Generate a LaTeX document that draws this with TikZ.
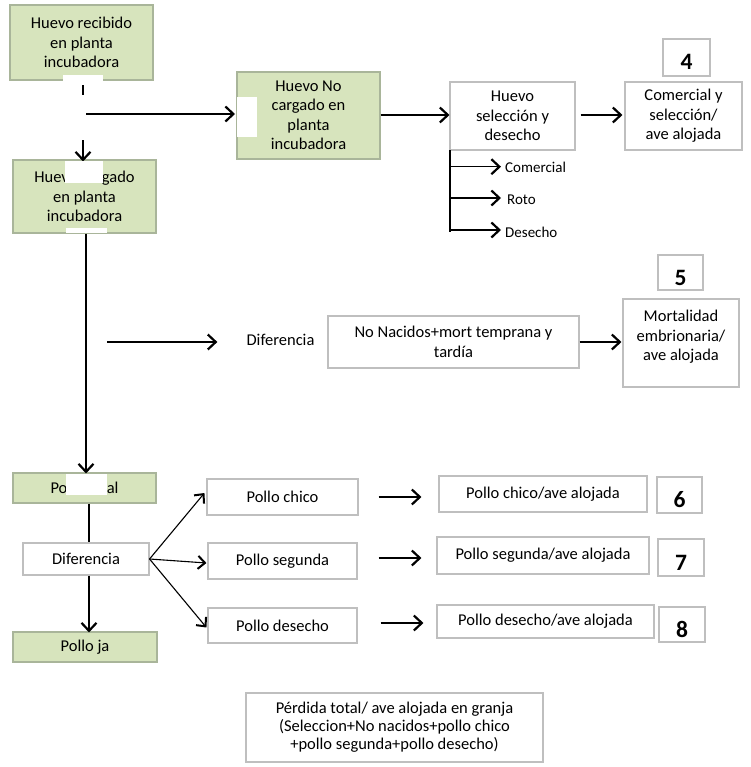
\documentclass[tikz,border=0pt]{standalone}
\usepackage{fontspec}
\setmainfont{Carlito}
\usetikzlibrary{arrows.meta}
\definecolor{boxgreen}{HTML}{D7E4BD}
\definecolor{boxline}{HTML}{BFBFBF}
\definecolor{gboxline}{HTML}{A9B59A}
\newcommand{\mfont}{\fontsize{16.5}{19.5}\selectfont}
\newcommand{\sfontx}{\fontsize{15}{18}\selectfont}
\newcommand{\nfont}{\fontsize{23.5}{26}\selectfont\bfseries}
\tikzset{
  gbox/.style={draw=gboxline, fill=boxgreen, line width=1.1pt, align=center, inner sep=0pt, font=\mfont, text=black},
  wbox/.style={draw=boxline, fill=white, line width=1.1pt, align=center, inner sep=0pt, font=\mfont, text=black},
  numbox/.style={wbox, font=\nfont, text height=25pt, text depth=0pt},
  plain/.style={inner sep=0pt, font=\mfont, align=center, text=black},
  small/.style={inner sep=0pt, font=\sfontx, anchor=west, text=black},
  patch/.style={fill=white, draw=none},
  arr/.style={line width=1.3pt, -{Straight Barb[length=8pt,width=15pt,line width=2.2pt]}},
  farr/.style={line width=1.1pt, -{Straight Barb[length=7pt,width=13pt,line width=2pt]}},
  ln/.style={line width=1.3pt},
}
\begin{document}
\begin{tikzpicture}[x=1pt,y=-1pt]
\useasboundingbox[fill=white] (0,0) rectangle (750,767);

% top left column
\node[gbox, minimum width=143pt, minimum height=75pt] (b1) at (81.5,42.5) {Huevo recibido\\en planta\\incubadora};
\node[gbox, minimum width=143pt, minimum height=87pt] (b3) at (308.5,115.5) {Huevo No\\cargado en\\planta\\incubadora};
\node[gbox, minimum width=143pt, minimum height=73pt] (b2) at (84.5,196.5) {Huev\phantom{o car}gado\\en planta\\incubadora};

\coordinate (split) at (83,114);
\coordinate (b3in) at (235,114);
\draw[ln] (b1.south -| split) -- (split);
\draw[arr] (split) -- ([yshift=-2pt]b2.north -| split);
\draw[arr] (split) -- (b3in);

% selection
\node[wbox, minimum width=125pt, minimum height=68pt] (sel) at (512.5,116) {Huevo\\selección y\\desecho};
\node[wbox, minimum width=117pt, minimum height=68pt] (com) at (683.5,116) {Comercial y\\selección/\\ave alojada};
\node[numbox, minimum width=47pt, minimum height=37pt] (n4) at (686.5,57.5) {4};
\draw[arr] (b3.east |- 0,115) -- (sel.west |- 0,115);
\draw[arr, shorten <=5pt, shorten >=2pt] (sel.east |- 0,115) -- (com.west |- 0,115);

\coordinate (vtop) at (450,150);
\coordinate (vbot) at (450,232);
\draw[ln] (vtop) -- (vbot);
\node[small] (lcom) at (505,167.5) {Comercial};
\node[small] (lrot) at (507,200) {Roto};
\node[small] (ldes) at (505,232) {Desecho};
\coordinate (c1) at (451,166.7);
\coordinate (c2) at (451,198);
\coordinate (c3) at (451,230);
\draw[arr] (c1) -- ([xshift=-4pt]lcom.west |- c1);
\draw[arr] (c2) -- ([xshift=-6pt]lrot.west |- c2);
\draw[arr] (c3) -- ([xshift=-4pt]ldes.west |- c3);

% middle row
\node[plain] (dif1) at (280.5,340) {Diferencia};
\coordinate (dstart) at (107,342);
\draw[arr] (dstart) -- ([xshift=-29pt]dif1.west |- dstart);
\node[wbox, minimum width=251pt, minimum height=52pt] (nac) at (453.5,342) {No Nacidos+mort temprana y\\tardía};
\node[wbox, minimum width=116pt, minimum height=88pt] (mor) at (681,343) {};
\node[plain] (mortxt) at (681,337) {Mortalidad\\embrionaria/\\ave alojada};
\node[numbox, minimum width=45pt, minimum height=35pt] (n5) at (680.5,272.5) {5};
\draw[arr, shorten >=1pt] (nac.east |- 0,342) -- (mor.west |- 0,342);

% lower left column
\node[gbox, minimum width=143pt, minimum height=30pt] (ptot) at (84.5,488) {Po\phantom{llo to}tal};
\node[wbox, minimum width=126pt, minimum height=32pt] (dif2) at (86,559) {Diferencia};
\node[gbox, minimum width=144pt, minimum height=30pt] (pja) at (85,647) {Pollo ja};
\draw[arr] ([xshift=1.5pt]b2.south) -- ([xshift=1.5pt,yshift=-1pt]ptot.north);
\draw[ln] ([xshift=4.5pt]ptot.south) -- ([xshift=3pt]dif2.north);
\draw[arr] ([xshift=3pt]dif2.south) -- ([xshift=4pt,yshift=-1pt]pja.north);

% pollo boxes
\node[wbox, minimum width=151pt, minimum height=36pt] (pch) at (282.5,497) {Pollo chico};
\node[wbox, minimum width=149pt, minimum height=36pt] (pse) at (282.5,561) {Pollo segunda};
\node[wbox, minimum width=149pt, minimum height=35pt] (pde) at (282.5,625.5) {Pollo desecho};
\draw[farr] (dif2.east) -- ([xshift=-2pt,yshift=4pt]pch.west);
\draw[farr] (dif2.east) -- ([xshift=-1pt,yshift=-2pt]pse.west);
\draw[farr] (dif2.east) -- ([xshift=-1pt,yshift=-2pt]pde.west);

\node[wbox, minimum width=208pt, minimum height=36pt] (pcha) at (543,494) {Pollo chico/ave alojada};
\node[wbox, minimum width=212pt, minimum height=37pt] (psea) at (543,555.5) {Pollo segunda/ave alojada};
\node[wbox, minimum width=217pt, minimum height=33pt] (pdea) at (545.5,621.5) {Pollo desecho/ave alojada};
\node[numbox, minimum width=45pt, minimum height=36pt] (n6) at (679.5,495) {6};
\node[numbox, minimum width=46pt, minimum height=37pt] (n7) at (681,557.5) {7};
\node[numbox, minimum width=46pt, minimum height=35pt] (n8) at (682,624.5) {8};
\draw[arr, shorten <=20pt, shorten >=17pt] (pch.east |- 0,497) -- (pcha.west |- 0,497);
\draw[arr, shorten <=21pt, shorten >=15pt] (pse.east |- 0,558) -- (psea.west |- 0,558);
\draw[arr, shorten <=23pt, shorten >=13pt] (pde.east |- 0,623) -- (pdea.west |- 0,623);

% total
\node[wbox, minimum width=297pt, minimum height=69pt, font=\fontsize{16.5}{18}\selectfont] (tot) at (394.5,727.5) {Pérdida total/ ave alojada en granja\\(Seleccion+No nacidos+pollo chico\\+pollo segunda+pollo desecho)};

% white patches of the reference
\fill[patch] (63,75) rectangle (103,85);
\fill[patch] (63,95) rectangle (86,140);
\fill[patch] (237,97) rectangle (257,137);
\fill[patch] (65,161) rectangle (103,183);
\fill[patch] (66,228) rectangle (107,233);
\fill[patch] (66,473.5) rectangle (107,495);
\end{tikzpicture}
\end{document}
